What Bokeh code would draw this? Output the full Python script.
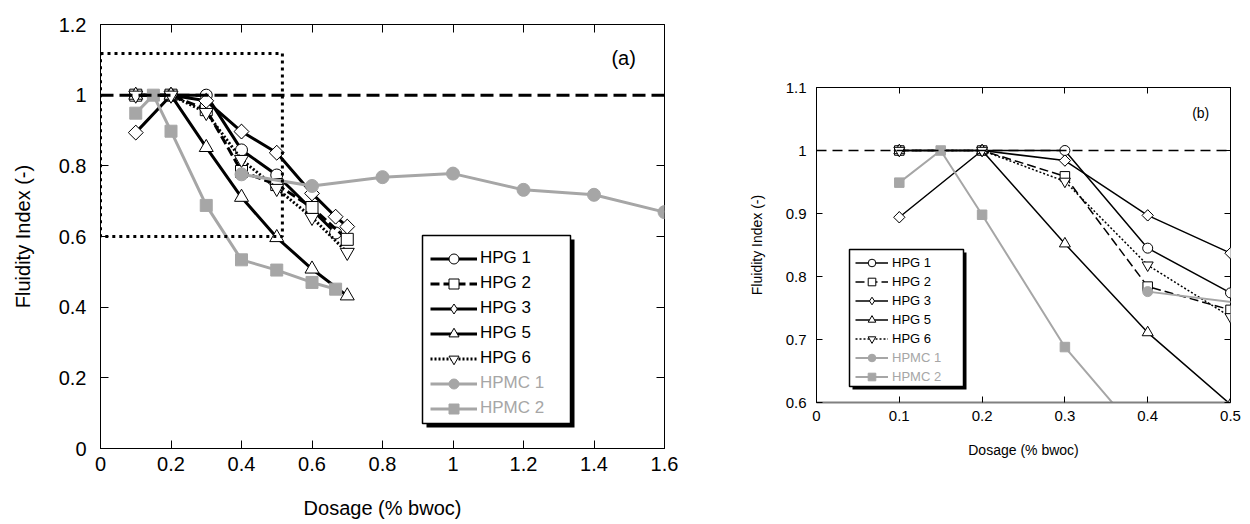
import numpy as np
from bokeh.plotting import figure
from bokeh.models import (Range1d, FixedTicker, CustomJSTickFormatter, LinearAxis, Span,
                          BoxAnnotation, Legend, LegendItem, Label, Spacer)
from bokeh.layouts import row, column
from bokeh.embed import file_html
from bokeh.resources import INLINE

FONT = "Liberation Sans"
GRAY = "#a6a6a6"

# ---------------- data ----------------
series_names = ["HPG 1", "HPG 2", "HPG 3", "HPG 5", "HPG 6", "HPMC 1", "HPMC 2"]
hpg1_x = [0.1, 0.2, 0.3, 0.4, 0.5, 0.667]
hpg1_y = [1.0, 1.0, 1.0, 0.845, 0.774, 0.61]
hpg2_x = [0.1, 0.2, 0.3, 0.4, 0.5, 0.6, 0.7]
hpg2_y = [1.0, 1.0, 0.959, 0.784, 0.747, 0.682, 0.592]
hpg3_x = [0.1, 0.2, 0.3, 0.4, 0.5, 0.6, 0.667, 0.7]
hpg3_y = [0.894, 1.0, 0.984, 0.897, 0.837, 0.722, 0.656, 0.628]
hpg5_x = [0.1, 0.2, 0.3, 0.4, 0.5, 0.6, 0.7]
hpg5_y = [1.0, 1.0, 0.852, 0.711, 0.597, 0.508, 0.432]
hpg6_x = [0.1, 0.2, 0.3, 0.4, 0.5, 0.6, 0.7]
hpg6_y = [1.0, 1.0, 0.951, 0.818, 0.736, 0.654, 0.555]
hpmc1_x = [0.4, 0.6, 0.8, 1.0, 1.2, 1.4, 1.6]
hpmc1_y = [0.776, 0.743, 0.768, 0.778, 0.732, 0.718, 0.669]
hpmc2_x = [0.1, 0.15, 0.2, 0.3, 0.4, 0.5, 0.6, 0.667]
hpmc2_y = [0.949, 1.0, 0.898, 0.688, 0.534, 0.505, 0.470, 0.451]

reference_level = 1.0
zoom_box_x = [0.0, 0.516]
zoom_box_y = [0.6, 1.118]

a_xticks = [0, 0.2, 0.4, 0.6, 0.8, 1.0, 1.2, 1.4, 1.6]
a_xlabels = ["0", "0.2", "0.4", "0.6", "0.8", "1", "1.2", "1.4", "1.6"]
a_yticks = [0, 0.2, 0.4, 0.6, 0.8, 1.0, 1.2]
a_ylabels = ["0", "0.2", "0.4", "0.6", "0.8", "1", "1.2"]
b_xticks = [0, 0.1, 0.2, 0.3, 0.4, 0.5]
b_xlabels = ["0", "0.1", "0.2", "0.3", "0.4", "0.5"]
b_yticks = [0.6, 0.7, 0.8, 0.9, 1.0, 1.1]
b_ylabels = ["0.6", "0.7", "0.8", "0.9", "1", "1.1"]

xs = [hpg1_x, hpg2_x, hpg3_x, hpg5_x, hpg6_x, hpmc1_x, hpmc2_x]
ys = [hpg1_y, hpg2_y, hpg3_y, hpg5_y, hpg6_y, hpmc1_y, hpmc2_y]

# ---------------- styles ----------------
colors = ["black"] * 5 + [GRAY, GRAY]
dashes = ["solid", "9 4", "solid", "solid", "2 2", "solid", "solid"]
markers = ["circle", "square", "square", "triangle", "inverted_triangle", "circle", "square"]
legend_markers = ["circle", "square", "diamond", "triangle", "inverted_triangle", "circle", "square"]
angles = [0, 0, np.pi / 4, 0, 0, 0, 0]
fills = ["white"] * 5 + [GRAY, GRAY]


def fmt(tks, lbls):
    return CustomJSTickFormatter(
        args=dict(tk=tks, lb=lbls),
        code="const i = tk.findIndex(t => Math.abs(t - tick) < 1e-9); return i < 0 ? '' : lb[i];")


def make_plot(xr, yr, fw, fh, borders, xticks, xlabels, yticks, ylabels, tick_fs, title_fs,
              tick_len, xstand, ystand):
    p = figure(x_range=Range1d(*xr), y_range=Range1d(*yr), frame_width=fw, frame_height=fh,
               output_backend="svg", toolbar_location=None,
               min_border_left=borders[0], min_border_right=borders[1],
               min_border_top=borders[2], min_border_bottom=borders[3])
    p.grid.visible = False
    p.outline_line_color = "black"
    p.outline_line_width = 1
    p.background_fill_color = "white"
    p.border_fill_color = "white"
    xax, yax = p.xaxis[0], p.yaxis[0]
    for ax, t, l in ((xax, xticks, xlabels), (yax, yticks, ylabels)):
        ax.ticker = FixedTicker(ticks=t, minor_ticks=[])
        ax.formatter = fmt(t, l)
        ax.major_tick_in = tick_len
        ax.major_tick_out = 0
        ax.minor_tick_line_color = None
        ax.axis_line_color = "black"
        ax.major_tick_line_color = "black"
        ax.major_label_text_font = FONT
        ax.major_label_text_font_size = tick_fs
        ax.major_label_text_color = "black"
        ax.axis_label_text_font = FONT
        ax.axis_label_text_font_size = title_fs
        ax.axis_label_text_font_style = "normal"
        ax.axis_label_text_color = "black"
    xax.major_label_standoff = xstand[0]
    xax.axis_label_standoff = xstand[1]
    yax.major_label_standoff = ystand[0]
    yax.axis_label_standoff = ystand[1]
    xax.axis_label = "Dosage (% bwoc)"
    yax.axis_label = "Fluidity Index (-)"
    for t, side in ((xticks, "above"), (yticks, "right")):
        ax = LinearAxis(ticker=FixedTicker(ticks=t, minor_ticks=[]),
                        formatter=CustomJSTickFormatter(code="return ''"),
                        major_tick_in=tick_len, major_tick_out=0, minor_tick_line_color=None,
                        axis_line_color=None, major_tick_line_color="black",
                        major_label_standoff=0)
        p.add_layout(ax, side)
    return p, xax, yax


def px_to_data(px, py, fl, fb, fw, fh, xr, yr):
    return (xr[0] + (px - fl) / fw * (xr[1] - xr[0]),
            yr[0] + (fb - py) / fh * (yr[1] - yr[0]))


def add_series(p, lw_black, lw_gray, msizes):
    rends = []
    for i in range(7):
        lw = lw_black if colors[i] == "black" else lw_gray
        lr = p.line(xs[i], ys[i], line_color=colors[i], line_width=lw, line_dash=dashes[i])
        proxy = None
        if legend_markers[i] != markers[i]:
            # legend proxy: a diamond hidden under the rotated square
            proxy = p.scatter(xs[i], ys[i], marker=legend_markers[i], size=msizes[i] * 1.38,
                              fill_color=fills[i], line_color=colors[i], line_width=1)
        sr = p.scatter(xs[i], ys[i], marker=markers[i], size=msizes[i], angle=angles[i],
                       fill_color=fills[i], line_color=colors[i], line_width=1)
        rends.append((lr, proxy if proxy is not None else sr))
    return rends


def add_legend(p, rends, box_px, shadow, frame, fs, glyph_w, glyph_h, spacing, vx, vy_a, vy_b, standoff):
    l, t, r, b = box_px
    x0, y1 = px_to_data(l + shadow, t + shadow, *frame)
    x1, y0 = px_to_data(r + shadow, b + shadow, *frame)
    p.add_layout(BoxAnnotation(left=x0, right=x1, bottom=y0, top=y1, fill_color="black",
                               fill_alpha=1, line_color=None, level="underlay"))
    x0, y1 = px_to_data(l, t, *frame)
    x1, y0 = px_to_data(r, b, *frame)
    p.add_layout(BoxAnnotation(left=x0, right=x1, bottom=y0, top=y1, fill_color="white",
                               fill_alpha=1, line_color="black", line_alpha=1, line_width=1.5,
                               level="underlay"))
    common = dict(orientation="vertical", padding=0, margin=0, spacing=spacing,
                  glyph_width=glyph_w, glyph_height=glyph_h, label_height=glyph_h,
                  label_standoff=standoff, background_fill_alpha=0, border_line_alpha=0,
                  label_text_font=FONT, label_text_font_size=fs, label_text_baseline="middle")
    la = Legend(items=[LegendItem(label=series_names[i], renderers=list(rends[i])) for i in range(5)],
                location=(vx, vy_a), label_text_color="black", **common)
    lb = Legend(items=[LegendItem(label=series_names[i], renderers=list(rends[i])) for i in range(5, 7)],
                location=(vx, vy_b), label_text_color=GRAY, **common)
    p.add_layout(la, "center")
    p.add_layout(lb, "center")


# ---------------- plot (a) ----------------
A_XR, A_YR = (0, 1.6), (0, 1.2)
A_FW, A_FH = 564, 424
pa, pa_x, pa_y = make_plot(A_XR, A_YR, A_FW, A_FH, (100, 56, 24, 64), a_xticks, a_xlabels,
                           a_yticks, a_ylabels, "20px", "20px", 8, (8, 23), (14, 22))
pa.add_layout(Span(location=reference_level, dimension="width", line_color="black",
                   line_width=3, line_dash="13 6"))
pa.add_layout(BoxAnnotation(left=zoom_box_x[0], right=zoom_box_x[1], bottom=zoom_box_y[0],
                            top=zoom_box_y[1], fill_alpha=0, line_color="black", line_alpha=1,
                            line_width=3, line_dash="3 4"))
ra = add_series(pa, 3, 3, [12, 12, 10.5, 14, 14, 13, 12])
frame_a = (100, 448, A_FW, A_FH, A_XR, A_YR)
add_legend(pa, ra, (422, 235, 570, 423), 4, frame_a, "17px", 47, 25, 0, 330, 77.5, 27.5, 3)
pa.add_layout(Label(x=1.484, y=1.106, text="(a)", text_align="center", text_baseline="middle",
                    text_font=FONT, text_font_size="20px", text_color="black"))

# ---------------- plot (b) ----------------
B_XR, B_YR = (0, 0.5), (0.6, 1.1)
B_FW, B_FH = 414, 315
pb, pb_x, pb_y = make_plot(B_XR, B_YR, B_FW, B_FH, (96, 12, 16, 64), b_xticks, b_xlabels,
                           b_yticks, b_ylabels, "15px", "14px", 6, (8, 18), (10, 18))
pb_x.axis_line_color = "#808080"
pb_x.axis_line_width = 2
pb.add_layout(Span(location=reference_level, dimension="width", line_color="black",
                   line_width=1.5, line_dash="10 6"))
rb = add_series(pb, 1.5, 2, [10, 9.5, 8, 11, 11, 10, 9.5])
frame_b = (816, 402, B_FW, B_FH, B_XR, B_YR)
add_legend(pb, rb, (849, 249, 963, 386), 3, frame_b, "13px", 33, 19, 0, 39, 54.5, 16.5, 4)
pb.add_layout(Label(x=0.464, y=1.06, text="(b)", text_align="center", text_baseline="middle",
                    text_font=FONT, text_font_size="14px", text_color="black"))

layout = row(pa, column(Spacer(width=10, height=71), pb))
open("out.html", "w").write(file_html(layout, INLINE))
